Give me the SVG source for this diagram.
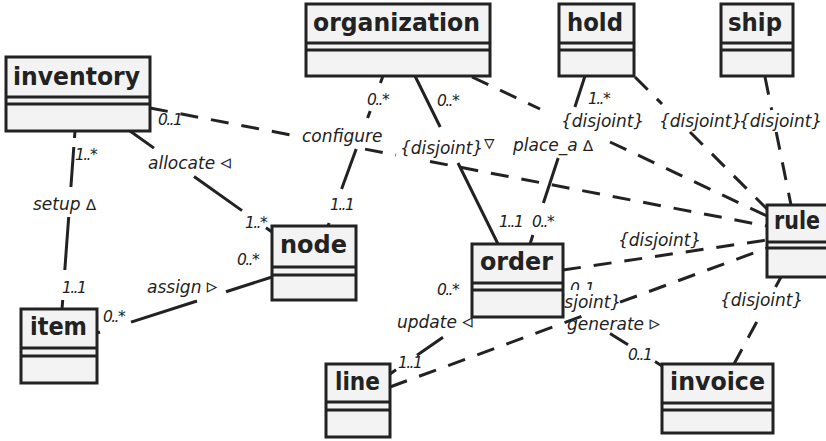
<svg xmlns="http://www.w3.org/2000/svg" width="826" height="441" viewBox="0 0 826 441">
  <style>
    .box { fill: #f3f3f3; stroke: #222; stroke-width: 3; }
    .sep { stroke: #222; stroke-width: 3; }
    .name { font-family: "DejaVu Sans", sans-serif; font-weight: bold; font-size: 25px; fill: #222; }
    .solid { fill: none; stroke: #222; stroke-width: 3; }
    .dash { fill: none; stroke: #222; stroke-width: 3; stroke-dasharray: 18 13; }
    .lbl { font-family: "DejaVu Sans", sans-serif; font-style: italic; font-size: 17px; fill: #222; }
    .mul { font-family: "DejaVu Sans", sans-serif; font-style: italic; font-size: 15.5px; letter-spacing: -1.6px; fill: #222; }
    .tri { font-size: 21px; font-style: normal; }
    .up { font-size: 15px; }
  </style>
  <rect width="826" height="441" fill="#fff"/>

  <!-- associations; gaps are left where labels sit on a line -->
  <g id="connectors">
    <path id="inventory-item" class="solid" d="M75,131 L74.5,138 M73.8,147 L70.9,187 M68.7,217 L64.8,270 M62.7,300 L62,309"/>
    <path id="inventory-node" class="solid" d="M130,131 L154,148.1 M194,176.5 L242,210.6 M266,227.7 L272,232"/>
    <path id="inventory-rule" class="dash" d="M150,108 L299,136.5 M365,149.1 L396,155 M430,161.5 L767,226"/>
    <path id="organization-node" class="solid" d="M383,76 L380.4,83 M370.2,111 L367.6,118 M356.2,149 L341.6,189 M329.1,223 L328,226"/>
    <path id="organization-order" class="solid" d="M415,76 L440.2,127 M458,163 L498,244"/>
    <path id="organization-rule" class="dash" d="M472,77 L540,109 M610,142 L767,216"/>
    <path id="hold-order" class="solid" d="M585,76 L574.9,107 M558.2,158 L543.4,203 M532.9,235 L530,244"/>
    <path id="hold-rule" class="dash" d="M635,77 L662,104 M690,132 L768,210"/>
    <path id="ship-rule" class="dash" d="M765,77 L771.7,110 M776.2,132 L791,205"/>
    <path id="order-rule" class="dash" d="M563,270 L767,240"/>
    <path id="line-rule" class="dash" d="M390,387 L590,313.3 M620,302.2 L767,248"/>
    <path id="order-line" class="solid" d="M443,337.2 L417,355.3 M396,369.8 L390,374"/>
    <path id="order-invoice" class="solid" d="M610,333.4 L628,344.7 M655,361.6 L662,366"/>
    <path id="rule-invoice" class="dash" d="M781,277 L775.6,287 M756.7,322 L734,364"/>
    <path id="node-item" class="solid" d="M272,277 L226,291.7 M197,301 L131,322.1 M100,332 L97,333"/>
  </g>

  <!-- association names, constraints and multiplicities -->
  <g id="labels">
    <text class="mul" x="75" y="160">1..*</text>
    <text class="lbl" x="33" y="210">setup <tspan class="up">∆</tspan></text>
    <text class="mul" x="62" y="293">1..1</text>
    <text class="lbl" x="148" y="169">allocate <tspan class="tri">◃</tspan></text>
    <text class="mul" x="245" y="228">1..*</text>
    <text class="mul" x="158" y="125">0..1</text>
    <text class="mul" x="367" y="105">0..*</text>
    <text class="lbl" x="302" y="142">configure</text>
    <text class="mul" x="330" y="210">1..1</text>
    <text class="mul" x="437" y="106">0..*</text>
    <text class="lbl" x="400" y="154">{disjoint}</text>
    <text class="lbl" x="484" y="150"><tspan class="tri">▿</tspan></text>
    <text class="mul" x="499" y="227">1..1</text>
    <text class="mul" x="588" y="104">1..*</text>
    <text class="lbl" x="561" y="127">{disjoint}</text>
    <text class="lbl" x="513" y="151">place_a <tspan class="up">∆</tspan></text>
    <text class="mul" x="532" y="227">0..*</text>
    <text class="lbl" x="659" y="127">{disjoint}</text>
    <text class="lbl" x="739" y="127">{disjoint}</text>
    <text class="lbl" x="618" y="246">{disjoint}</text>
    <text class="mul" x="570" y="294">0..1</text>
    <rect x="564" y="290" width="40" height="12" fill="#fff"/>
    <text class="lbl" x="538" y="308">{disjoint}</text>
    <text class="lbl" x="567" y="330">generate <tspan class="tri">▹</tspan></text>
    <text class="mul" x="628" y="360">0..1</text>
    <text class="lbl" x="720" y="306">{disjoint}</text>
    <text class="mul" x="437" y="295">0..*</text>
    <text class="lbl" x="397" y="328">update <tspan class="tri">◃</tspan></text>
    <text class="mul" x="398" y="368">1..1</text>
    <text class="lbl" x="147" y="293">assign <tspan class="tri">▹</tspan></text>
    <text class="mul" x="103" y="322">0..*</text>
    <text class="mul" x="237" y="265">0..*</text>
  </g>

  <!-- classes: name compartment, empty attribute and operation compartments -->
  <g id="inventory">
    <rect class="box" x="6" y="57" width="144" height="74"/>
    <line class="sep" x1="6" y1="97" x2="150" y2="97"/>
    <line class="sep" x1="6" y1="104" x2="150" y2="104"/>
    <text class="name" x="13" y="85" textLength="127" lengthAdjust="spacingAndGlyphs">inventory</text>
  </g>
  <g id="organization">
    <rect class="box" x="306" y="4" width="184" height="72"/>
    <line class="sep" x1="306" y1="43" x2="490" y2="43"/>
    <line class="sep" x1="306" y1="50" x2="490" y2="50"/>
    <text class="name" x="313" y="31" textLength="167" lengthAdjust="spacingAndGlyphs">organization</text>
  </g>
  <g id="hold">
    <rect class="box" x="559" y="4" width="75" height="72"/>
    <line class="sep" x1="559" y1="43" x2="634" y2="43"/>
    <line class="sep" x1="559" y1="50" x2="634" y2="50"/>
    <text class="name" x="567" y="31" textLength="56" lengthAdjust="spacingAndGlyphs">hold</text>
  </g>
  <g id="ship">
    <rect class="box" x="721" y="4" width="72" height="72"/>
    <line class="sep" x1="721" y1="43" x2="793" y2="43"/>
    <line class="sep" x1="721" y1="50" x2="793" y2="50"/>
    <text class="name" x="728" y="31" textLength="54" lengthAdjust="spacingAndGlyphs">ship</text>
  </g>
  <g id="rule">
    <rect class="box" x="767" y="205" width="72" height="72"/>
    <line class="sep" x1="767" y1="242" x2="839" y2="242"/>
    <line class="sep" x1="767" y1="248" x2="839" y2="248"/>
    <text class="name" x="774" y="229" textLength="46" lengthAdjust="spacingAndGlyphs">rule</text>
  </g>
  <g id="node">
    <rect class="box" x="272" y="226" width="84" height="74"/>
    <line class="sep" x1="272" y1="267" x2="356" y2="267"/>
    <line class="sep" x1="272" y1="275" x2="356" y2="275"/>
    <text class="name" x="280" y="253" textLength="67" lengthAdjust="spacingAndGlyphs">node</text>
  </g>
  <g id="order">
    <rect class="box" x="472" y="244" width="91" height="73"/>
    <line class="sep" x1="472" y1="283" x2="563" y2="283"/>
    <line class="sep" x1="472" y1="290" x2="563" y2="290"/>
    <text class="name" x="480" y="270" textLength="73" lengthAdjust="spacingAndGlyphs">order</text>
  </g>
  <g id="item">
    <rect class="box" x="21" y="309" width="76" height="74"/>
    <line class="sep" x1="21" y1="348" x2="97" y2="348"/>
    <line class="sep" x1="21" y1="356" x2="97" y2="356"/>
    <text class="name" x="30" y="335" textLength="57" lengthAdjust="spacingAndGlyphs">item</text>
  </g>
  <g id="line">
    <rect class="box" x="326" y="364" width="64" height="73"/>
    <line class="sep" x1="326" y1="402" x2="390" y2="402"/>
    <line class="sep" x1="326" y1="410" x2="390" y2="410"/>
    <text class="name" x="335" y="390" textLength="45" lengthAdjust="spacingAndGlyphs">line</text>
  </g>
  <g id="invoice">
    <rect class="box" x="662" y="364" width="111" height="69"/>
    <line class="sep" x1="662" y1="403" x2="773" y2="403"/>
    <line class="sep" x1="662" y1="410" x2="773" y2="410"/>
    <text class="name" x="670" y="390" textLength="95" lengthAdjust="spacingAndGlyphs">invoice</text>
  </g>
</svg>
